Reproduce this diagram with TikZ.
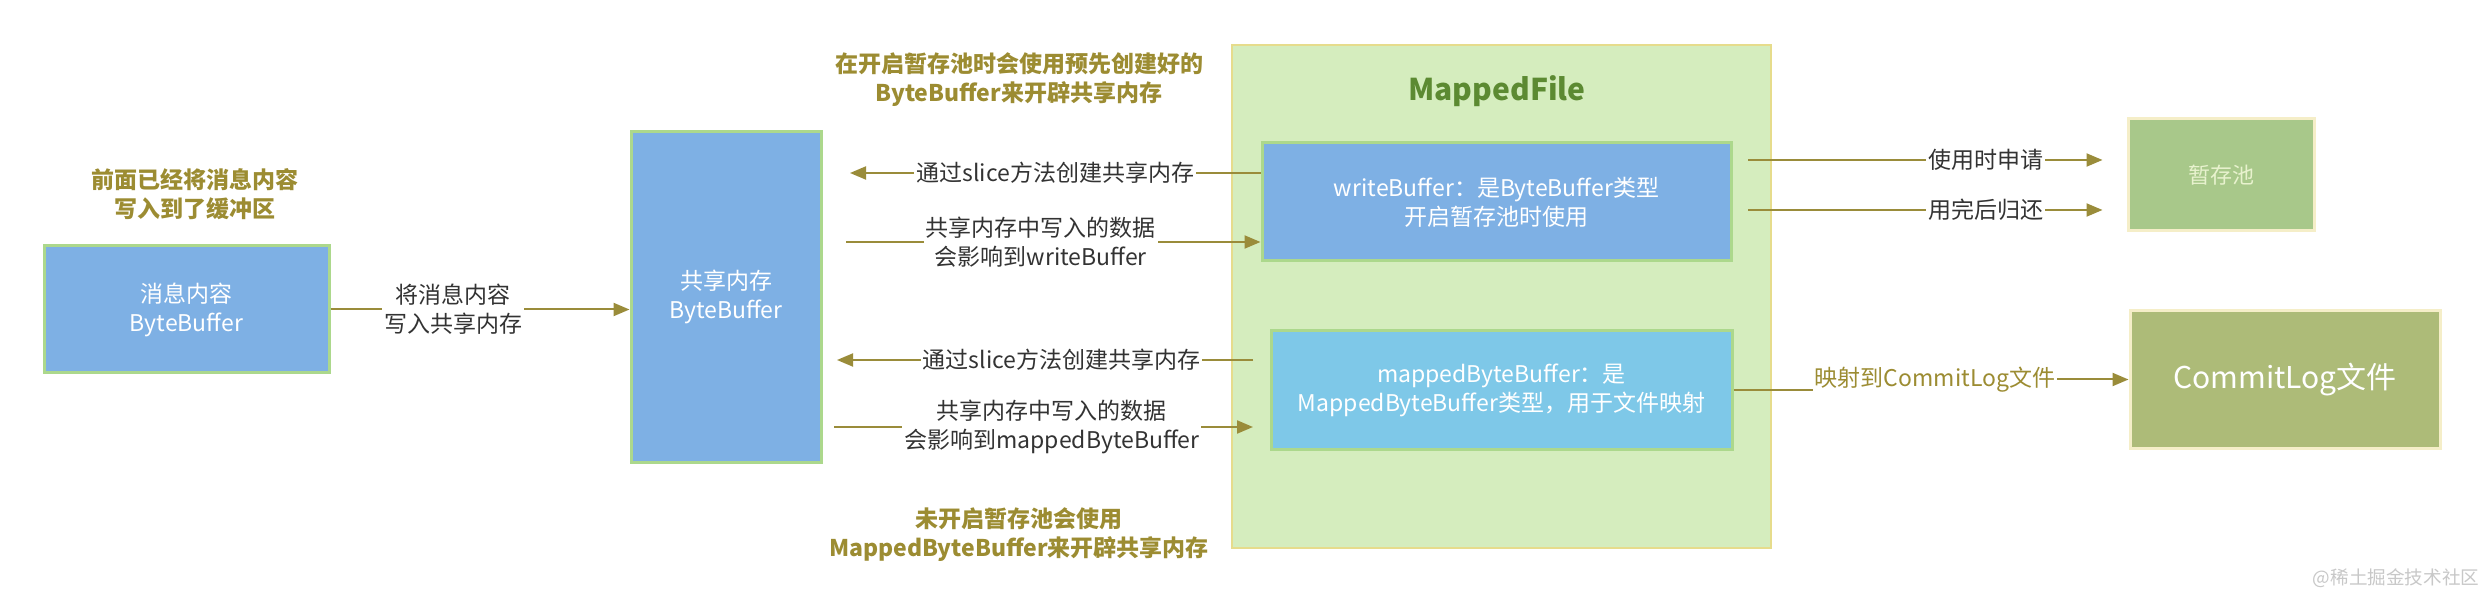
\documentclass[tikz,border=0pt]{standalone}
\usepackage{fontspec}
\setmainfont{Noto Sans CJK SC}
\usetikzlibrary{arrows.meta,positioning}

\definecolor{boxblue}{RGB}{126,176,228}
\definecolor{boxcyan}{RGB}{126,200,232}
\definecolor{boxedge}{RGB}{172,216,140}
\definecolor{filegreen}{RGB}{213,237,190}
\definecolor{fileedge}{RGB}{230,220,140}
\definecolor{titlegreen}{RGB}{92,138,50}
\definecolor{poolgreen}{RGB}{168,200,138}
\definecolor{pooltext}{RGB}{232,242,206}
\definecolor{loggreen}{RGB}{173,187,120}
\definecolor{paleedge}{RGB}{245,238,200}
\definecolor{arrowolive}{RGB}{154,140,58}
\definecolor{notegold}{RGB}{156,140,50}
\definecolor{labelgrey}{RGB}{51,51,51}
\definecolor{markgrey}{RGB}{200,200,200}

\begin{document}
\begin{tikzpicture}[x=0.5pt,y=-0.5pt,
    txt/.style={font=\fontsize{11.5}{14.5}\selectfont, align=center},
    bufbox/.style={txt, draw=boxedge, line width=1.5pt, fill=boxblue, text=white, inner sep=0pt},
    greenbox/.style={draw=paleedge, line width=1.5pt, text=white, inner sep=0pt, align=center},
    flow/.style={draw=arrowolive, line width=1pt, -{Triangle[length=8pt,width=6.5pt]}},
    lbl/.style={txt, fill=white, inner sep=1pt, text=labelgrey},
    note/.style={txt, text=notegold, font=\fontsize{11.5}{14.5}\selectfont\bfseries}]

          \fill[white] (0,0) rectangle (2482,598);
          \useasboundingbox (0,0) rectangle (2482,598);

          % MappedFile frame
          \node[draw=fileedge, line width=1pt, fill=filegreen, minimum width=269.5pt, minimum height=251.5pt, inner sep=0pt] (mf) at (1501.5,296.5) {};
          \node[text=titlegreen, font=\fontsize{15}{18}\selectfont\bfseries] (mftitle) at (1497,91) {MappedFile};

          \node[bufbox, minimum width=142.5pt, minimum height=63.5pt] (msg) at (186.5,309.5) {消息内容\\ByteBuffer};
          \node[bufbox, minimum width=95pt, minimum height=165pt] (shm) at (726,297) {共享内存\\ByteBuffer};
          \node[bufbox, minimum width=234.5pt, minimum height=59pt] (wb) at (1496.5,202) {writeBuffer：是ByteBuffer类型\\开启暂存池时使用};
          \node[bufbox, fill=boxcyan, minimum width=230.5pt, minimum height=59pt] (mbb) at (1501.5,390) {mappedByteBuffer：是\\MappedByteBuffer类型，用于文件映射};

          \node[greenbox, fill=poolgreen, text=pooltext, font=\fontsize{11}{13}\selectfont, minimum width=93pt, minimum height=56pt] (pool) at (2221,175) {暂存池};
          \node[greenbox, fill=loggreen, font=\fontsize{15}{18}\selectfont, minimum width=155pt, minimum height=68.5pt] (clog) at (2285,379.5) {CommitLog文件};

          % notes
          \node[note] (prenote) at (195,194) {前面已经将消息内容\\写入到了缓冲区};
          \node[note] (poolnote) at (1019,80) {在开启暂存池时会使用预先创建好的\\ByteBuffer来开辟共享内存};
          \node[note] (mapnote) at (1019,535) {未开启暂存池会使用\\MappedByteBuffer来开辟共享内存};

          % free ends
          \coordinate (shmA) at (850,173);
          \coordinate (shmB) at (846,242);
          \coordinate (shmC) at (837,360);
          \coordinate (shmD) at (834,427);
          \coordinate (mbbC) at (1253,360);
          \coordinate (mbbD) at (1253,427);
          \coordinate (wbA) at (1748,160);
          \coordinate (wbB) at (1748,210);

          \draw[flow] (msg.east) -- node[lbl, pos=0.41] (msglbl) {将消息内容\\写入共享内存} (msg.east -| shm.west);

          \draw[flow] (wb.west |- shmA) -- node[lbl] (slicea) {通过slice方法创建共享内存} (shmA);
          \draw[flow] (shmB) -- node[lbl, pos=0.47] (writea) {共享内存中写入的数据\\会影响到writeBuffer} (wb.west |- shmB);

          \draw[flow] (mbbC) -- node[lbl, pos=0.46] (sliceb) {通过slice方法创建共享内存} (shmC);
          \draw[flow] (shmD) -- node[lbl, pos=0.52] (writeb) {共享内存中写入的数据\\会影响到mappedByteBuffer} (mbbD);

%          \draw[flow] (wbA) -- (pool.west);
          \draw[flow] (wbA) -- node[lbl, pos=0.67] (borrowlbl) {使用时申请} ([xshift=-12pt]wbA -| pool.west);
          \draw[flow] (wbB) -- node[lbl, pos=0.67] (backlbl) {用完后归还} ([xshift=-12pt]wbB -| pool.west);

          \draw[flow] (mbb.east) -- (1890,390) |- (clog.west);
          \node[lbl, text=notegold] (maplbl) at (1935,380) {映射到CommitLog文件};

          \node[text=markgrey, font=\fontsize{9.3}{11}\selectfont] (mark) at (2396,578) {@稀土掘金技术社区};
        \end{tikzpicture}
\end{document}
